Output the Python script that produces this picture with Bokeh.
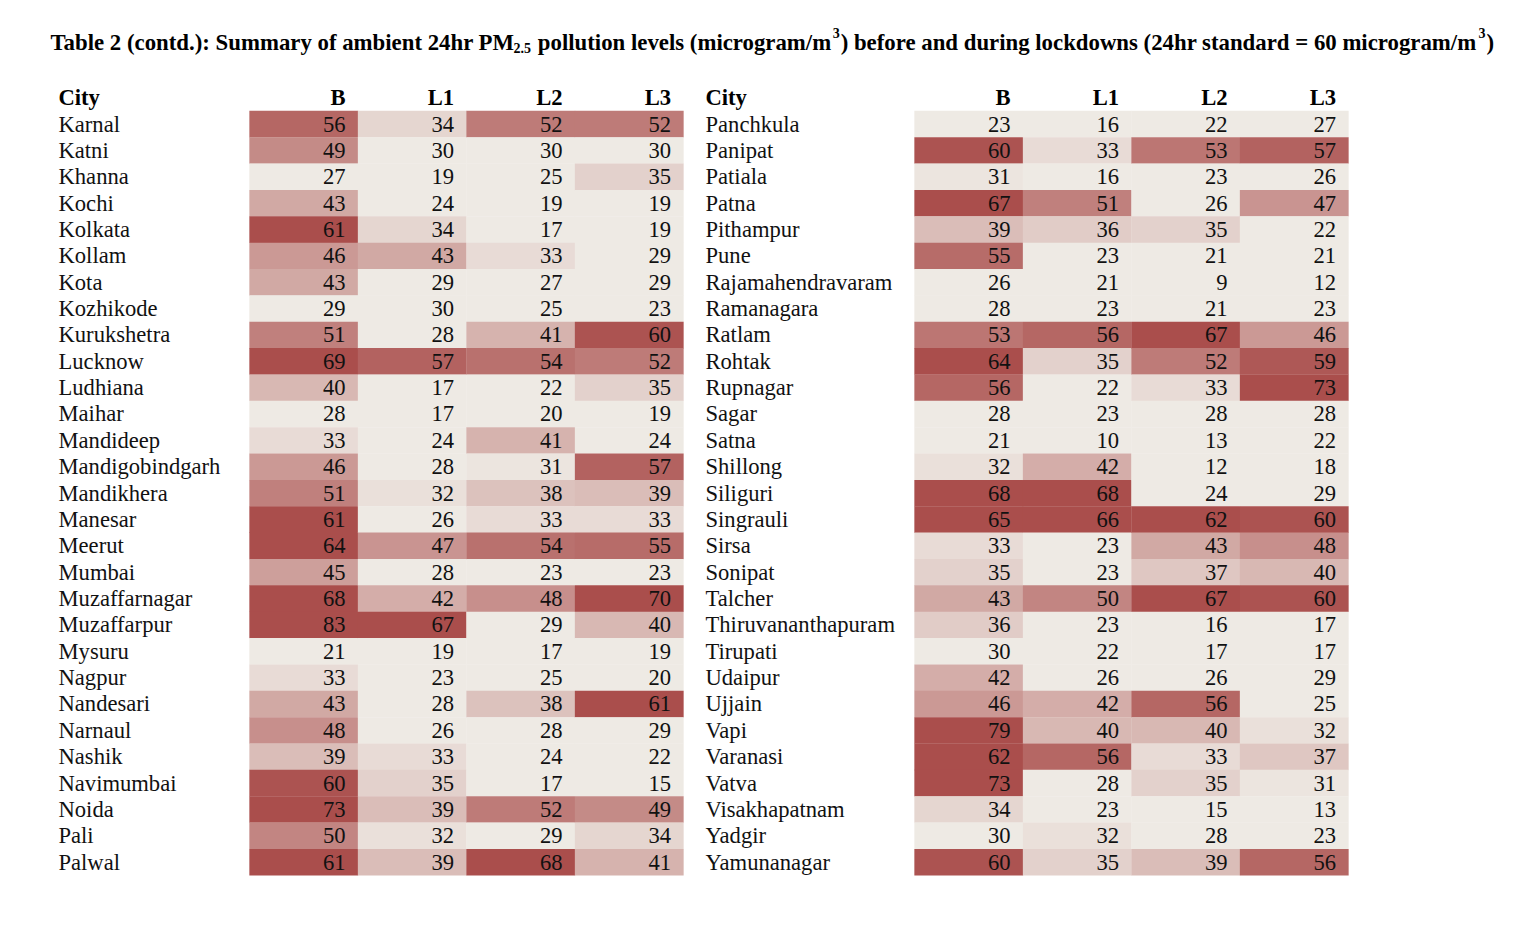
from bokeh.plotting import figure
from bokeh.models import ColumnDataSource, Range1d
from bokeh.transform import linear_cmap
from bokeh.core.properties import value
from bokeh.embed import file_html
from bokeh.resources import INLINE

# ---------------- data ----------------
columns = ["B", "L1", "L2", "L3"]

cities_left = ["Karnal", "Katni", "Khanna", "Kochi", "Kolkata", "Kollam", "Kota", "Kozhikode",
               "Kurukshetra", "Lucknow", "Ludhiana", "Maihar", "Mandideep", "Mandigobindgarh",
               "Mandikhera", "Manesar", "Meerut", "Mumbai", "Muzaffarnagar", "Muzaffarpur",
               "Mysuru", "Nagpur", "Nandesari", "Narnaul", "Nashik", "Navimumbai", "Noida",
               "Pali", "Palwal"]
b_left  = [56, 49, 27, 43, 61, 46, 43, 29, 51, 69, 40, 28, 33, 46, 51, 61, 64, 45, 68, 83, 21, 33, 43, 48, 39, 60, 73, 50, 61]
l1_left = [34, 30, 19, 24, 34, 43, 29, 30, 28, 57, 17, 17, 24, 28, 32, 26, 47, 28, 42, 67, 19, 23, 28, 26, 33, 35, 39, 32, 39]
l2_left = [52, 30, 25, 19, 17, 33, 27, 25, 41, 54, 22, 20, 41, 31, 38, 33, 54, 23, 48, 29, 17, 25, 38, 28, 24, 17, 52, 29, 68]
l3_left = [52, 30, 35, 19, 19, 29, 29, 23, 60, 52, 35, 19, 24, 57, 39, 33, 55, 23, 70, 40, 19, 20, 61, 29, 22, 15, 49, 34, 41]

cities_right = ["Panchkula", "Panipat", "Patiala", "Patna", "Pithampur", "Pune", "Rajamahendravaram",
                "Ramanagara", "Ratlam", "Rohtak", "Rupnagar", "Sagar", "Satna", "Shillong",
                "Siliguri", "Singrauli", "Sirsa", "Sonipat", "Talcher", "Thiruvananthapuram",
                "Tirupati", "Udaipur", "Ujjain", "Vapi", "Varanasi", "Vatva", "Visakhapatnam",
                "Yadgir", "Yamunanagar"]
b_right  = [23, 60, 31, 67, 39, 55, 26, 28, 53, 64, 56, 28, 21, 32, 68, 65, 33, 35, 43, 36, 30, 42, 46, 79, 62, 73, 34, 30, 60]
l1_right = [16, 33, 16, 51, 36, 23, 21, 23, 56, 35, 22, 23, 10, 42, 68, 66, 23, 23, 50, 23, 22, 26, 42, 40, 56, 28, 23, 32, 35]
l2_right = [22, 53, 23, 26, 35, 21, 9, 21, 67, 52, 33, 28, 13, 12, 24, 62, 43, 37, 67, 16, 17, 26, 56, 40, 33, 35, 15, 28, 39]
l3_right = [27, 57, 26, 47, 22, 21, 12, 23, 46, 59, 73, 28, 22, 18, 29, 60, 48, 40, 60, 17, 17, 29, 25, 32, 37, 31, 13, 23, 56]

title_parts = [("Table 2 (contd.): Summary of ambient 24hr PM", "n"), ("2.5", "sub"),
               (" pollution levels (microgram/m", "n"), ("3", "sup"),
               (") before and during lockdowns (24hr standard = 60 microgram/m", "n"), ("3", "sup"),
               (")", "n")]

# ---------------- layout / style ----------------
W, H = 1499, 910
FONT = "Liberation Serif"
BODY_FS = "22.6px"
LIGHT = (238, 234, 228)
DARK = (170, 78, 76)
palette = ["#%02x%02x%02x" % tuple(int(round(LIGHT[k] + (DARK[k] - LIGHT[k]) * i / 255)) for k in range(3))
           for i in range(256)]
cmap = linear_cmap("v", palette, 30, 61, low_color=palette[0], high_color=palette[-1])

ROW_TOP = 110.5
ROW_H = 26.36
COL_W = 108.5
PAD = 12.5
TDY = -8          # svg text baseline correction
BASE = 21.0 + TDY  # baseline offset within a row

tables = [
    dict(cities=cities_left, vals=[b_left, l1_left, l2_left, l3_left], name_x=58, cell_x=249),
    dict(cities=cities_right, vals=[b_right, l1_right, l2_right, l3_right], name_x=705, cell_x=914),
]

p = figure(width=W, height=H, output_backend="svg", toolbar_location=None,
           x_range=Range1d(0, W), y_range=Range1d(H, 0),
           min_border=0, min_border_left=0, min_border_right=0, min_border_top=0, min_border_bottom=0)
p.axis.visible = False
p.grid.visible = False
p.outline_line_color = None
p.background_fill_color = "white"
p.border_fill_color = "white"

for t in tables:
    cx, cy, cv, tx, ty, tt = [], [], [], [], [], []
    for j, col in enumerate(t["vals"]):
        for i, v in enumerate(col):
            cx.append(t["cell_x"] + (j + 0.5) * COL_W)
            cy.append(ROW_TOP + (i + 0.5) * ROW_H)
            cv.append(v)
            tx.append(t["cell_x"] + (j + 1) * COL_W - PAD)
            ty.append(ROW_TOP + i * ROW_H + BASE)
            tt.append(str(v))
    src = ColumnDataSource(dict(x=cx, y=cy, v=cv, tx=tx, ty=ty, t=tt))
    p.rect(x="x", y="y", width=COL_W + 0.3, height=ROW_H + 0.3, source=src,
           fill_color=cmap, line_color=None)
    p.text(x="tx", y="ty", text="t", source=src, text_font=value(FONT), text_font_size=BODY_FS,
           text_align="right", text_baseline="alphabetic", text_color="#111111")
    # city names
    p.text(x=[t["name_x"]] * len(t["cities"]),
           y=[ROW_TOP + i * ROW_H + BASE for i in range(len(t["cities"]))],
           text=t["cities"], text_font=value(FONT), text_font_size=BODY_FS,
           text_align="left", text_baseline="alphabetic", text_color="#111111")
    # headers
    p.text(x=[t["name_x"]], y=[105 + TDY], text=["City"], text_font=value(FONT), text_font_size=BODY_FS,
           text_font_style="bold", text_align="left", text_baseline="alphabetic", text_color="#000000")
    p.text(x=[t["cell_x"] + (j + 1) * COL_W - PAD for j in range(4)], y=[105 + TDY] * 4, text=columns,
           text_font=value(FONT), text_font_size=BODY_FS, text_font_style="bold",
           text_align="right", text_baseline="alphabetic", text_color="#000000")

# ---------------- title with sub/superscripts ----------------
CW = {' ': 250, '(': 333, ')': 333, '.': 250, ':': 333, '/': 278, '=': 570, 'T': 667, 'S': 556,
      'P': 611, 'M': 944, 'a': 500, 'b': 556, 'c': 444, 'd': 556, 'e': 444, 'f': 333, 'g': 500,
      'h': 556, 'i': 278, 'k': 556, 'l': 278, 'm': 833, 'n': 556, 'o': 500, 'p': 556, 'r': 444,
      's': 389, 't': 333, 'u': 556, 'v': 500, 'w': 722, 'y': 500}
TS = 22.8
SS = 14.0
cursor = 50.0
for txt, kind in title_parts:
    size = TS if kind == "n" else SS
    base = 50 if kind == "n" else (55 if kind == "sub" else 40)
    lead = len(txt) - len(txt.lstrip(" "))
    cursor += lead * CW[' '] / 1000.0 * size
    body = txt.lstrip(" ")
    shift = -4.0 if kind == "sub" else 0.0
    p.text(x=[cursor + shift], y=[base + TDY], text=[body], text_font=value(FONT),
           text_font_size="%.1fpx" % size, text_font_style="bold", text_align="left",
           text_baseline="alphabetic", text_color="#000000")
    cursor += sum(CW.get(ch, 500) for ch in body) / 1000.0 * size + 1.0 + (2 * shift if kind == "sub" else 0.0) * 0.5

open("out.html", "w").write(file_html(p, INLINE))
